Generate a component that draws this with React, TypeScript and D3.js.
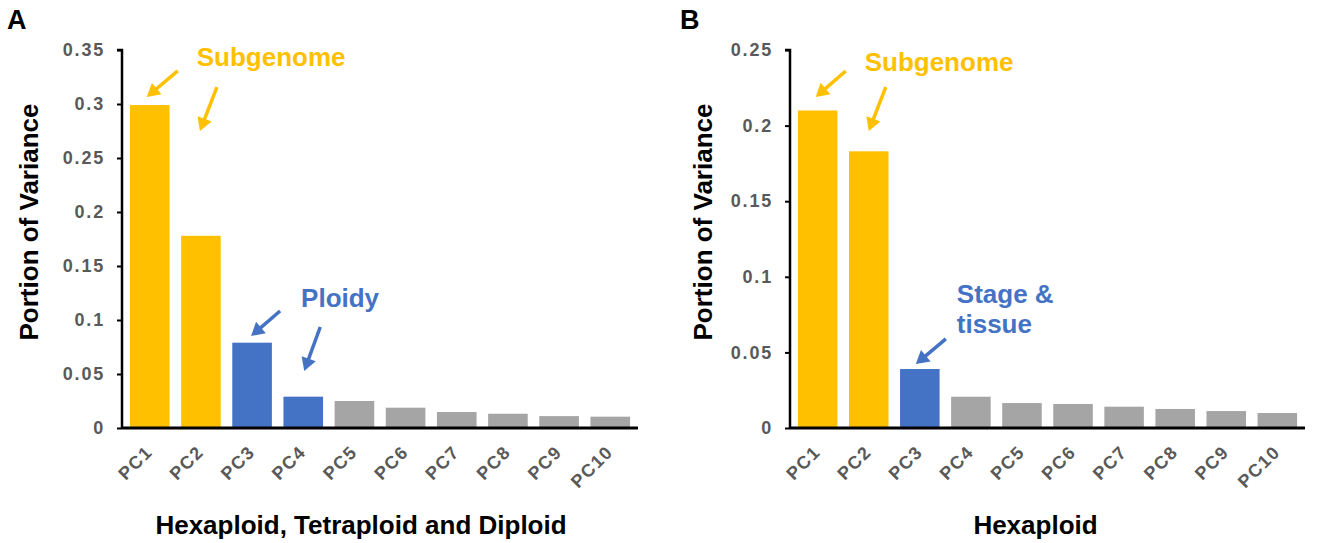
import * as d3 from "d3";
import { useEffect, useRef } from "react";

// data
const categories = ["PC1", "PC2", "PC3", "PC4", "PC5", "PC6", "PC7", "PC8", "PC9", "PC10"];
const valuesA = [0.299, 0.178, 0.079, 0.029, 0.025, 0.0188, 0.0148, 0.0132, 0.011, 0.0105];
const valuesB = [0.21, 0.183, 0.039, 0.0207, 0.0165, 0.0159, 0.0141, 0.0126, 0.0112, 0.0099];
const groupsA = ["sub", "sub", "main", "main", "rest", "rest", "rest", "rest", "rest", "rest"];
const groupsB = ["sub", "sub", "main", "rest", "rest", "rest", "rest", "rest", "rest", "rest"];
const ticksA = [0, 0.05, 0.1, 0.15, 0.2, 0.25, 0.3, 0.35];
const ticksB = [0, 0.05, 0.1, 0.15, 0.2, 0.25];

const ORANGE = "#FFC000";
const BLUE = "#4472C4";
const GRAY = "#A5A5A5";
const colorOf = { sub: ORANGE, main: BLUE, rest: GRAY };
const FONT = "'Liberation Sans', Arial, sans-serif";

const panels = [
  {
    letter: "A", letterX: 7,
    values: valuesA, groups: groupsA, ticks: ticksA, ymax: 0.35,
    x0: 122, x1: 638, yTitleX: 38, xTitle: "Hexaploid, Tetraploid and Diploid", xTitleDx: -19,
    labels: [
      { lines: ["Subgenome"], cat: "PC1", dx: 47, v: 0.335, color: ORANGE },
      { lines: ["Ploidy"], cat: "PC3", dx: 49, v: 0.112, color: BLUE },
    ],
    arrows: [
      { cat: "PC1", tailDx: 28, tailV: 0.3306, tipDx: -3, tipV: 0.3065, color: ORANGE },
      { cat: "PC2", tailDx: 16, tailV: 0.3157, tipDx: -1, tipV: 0.275, color: ORANGE },
      { cat: "PC3", tailDx: 28, tailV: 0.1083, tipDx: -1, tipV: 0.0852, color: BLUE },
      { cat: "PC4", tailDx: 17, tailV: 0.0935, tipDx: 1, tipV: 0.0528, color: BLUE },
    ],
  },
  {
    letter: "B", letterX: 680,
    values: valuesB, groups: groupsB, ticks: ticksB, ymax: 0.25,
    x0: 790, x1: 1305, yTitleX: 712, xTitle: "Hexaploid", xTitleDx: -12,
    labels: [
      { lines: ["Subgenome"], cat: "PC1", dx: 47, v: 0.236, color: ORANGE },
      { lines: ["Stage &", "tissue"], cat: "PC3", dx: 37, v: 0.0827, color: BLUE },
    ],
    arrows: [
      { cat: "PC1", tailDx: 28, tailV: 0.2361, tipDx: -2, tipV: 0.2189, color: ORANGE },
      { cat: "PC2", tailDx: 17, tailV: 0.2255, tipDx: 0, tipV: 0.1964, color: ORANGE },
      { cat: "PC3", tailDx: 26, tailV: 0.0589, tipDx: -4, tipV: 0.0423, color: BLUE },
    ],
  },
];

const top = 50;
const baseY = 428;

const App = () => {
  const ref = useRef(null);

  useEffect(() => {
    const svg = d3.select(ref.current);
    svg.selectAll("*").remove();

    panels.forEach((p) => {
      const g = svg.append("g");
      const x = d3.scaleBand().domain(categories).range([p.x0, p.x1]).paddingInner(0.226).paddingOuter(0.155);
      const y = d3.scaleLinear().domain([0, p.ymax]).range([baseY, top]);
      const cx = (c) => x(c) + x.bandwidth() / 2;

      // bars
      g.selectAll("rect.bar")
        .data(p.values)
        .enter()
        .append("rect")
        .attr("x", (d, i) => x(categories[i]))
        .attr("y", (d) => y(d))
        .attr("width", x.bandwidth())
        .attr("height", (d) => baseY - y(d))
        .style("fill", (d, i) => colorOf[p.groups[i]]);

      // y axis
      const yAxis = d3.axisLeft(y).tickValues(p.ticks).tickSize(5).tickPadding(12)
        .tickFormat((d) => String(+d.toFixed(2)));
      const ya = g.append("g").attr("transform", `translate(${p.x0},0)`).call(yAxis);
      ya.select(".domain").attr("stroke", "#000").attr("stroke-width", 2.5).attr("d", `M-5,${top}H0V${baseY}`);
      ya.selectAll(".tick line").attr("stroke", "#000").attr("stroke-width", 2);
      ya.selectAll(".tick text")
        .attr("fill", "#595959")
        .style("font-family", FONT)
        .style("font-size", "18px")
        .style("font-weight", "bold")
        .style("letter-spacing", "1.8px");

      // x axis
      const xAxis = d3.axisBottom(x).tickSize(0).tickPadding(0);
      const xa = g.append("g").attr("transform", `translate(0,${baseY})`).call(xAxis);
      xa.select(".domain").attr("stroke", "#000").attr("stroke-width", 3).attr("d", `M${p.x0},0H${p.x1}`);
      xa.selectAll(".tick text")
        .attr("fill", "#595959")
        .attr("dy", 0)
        .attr("y", 0)
        .attr("text-anchor", "end")
        .attr("transform", "translate(4,25) rotate(-45)")
        .style("font-family", FONT)
        .style("font-size", "18px")
        .style("font-weight", "bold")
        .style("letter-spacing", "1.5px");

      // axis titles
      g.append("text")
        .attr("transform", `translate(${p.yTitleX},${(top + baseY) / 2 - 17}) rotate(-90)`)
        .attr("text-anchor", "middle")
        .style("font-family", FONT)
        .style("font-size", "26px")
        .style("font-weight", "bold")
        .text("Portion of Variance");

      g.append("text")
        .attr("x", (p.x0 + p.x1) / 2 + p.xTitleDx)
        .attr("y", 534)
        .attr("text-anchor", "middle")
        .style("font-family", FONT)
        .style("font-size", "26px")
        .style("font-weight", "bold")
        .text(p.xTitle);

      // panel letter
      g.append("text")
        .attr("x", p.letterX)
        .attr("y", 29)
        .style("font-family", FONT)
        .style("font-size", "27px")
        .style("font-weight", "bold")
        .text(p.letter);

      // annotations
      p.labels.forEach((l) => {
        const t = g.append("text")
          .attr("x", cx(l.cat) + l.dx)
          .attr("y", y(l.v))
          .style("font-family", FONT)
          .style("font-size", "26px")
          .style("font-weight", "bold")
          .attr("fill", l.color);
        l.lines.forEach((line, i) => {
          t.append("tspan").attr("x", cx(l.cat) + l.dx).attr("dy", i === 0 ? 0 : 30).text(line);
        });
      });

      p.arrows.forEach((a) => {
        const tx = cx(a.cat) + a.tailDx, ty = y(a.tailV);
        const hx = cx(a.cat) + a.tipDx, hy = y(a.tipV);
        const len = Math.hypot(hx - tx, hy - ty);
        const ux = (hx - tx) / len, uy = (hy - ty) / len;
        const head = 13, half = 7.5;
        const bx = hx - ux * head, by = hy - uy * head;
        g.append("line")
          .attr("x1", tx).attr("y1", ty).attr("x2", bx + ux).attr("y2", by + uy)
          .attr("stroke", a.color).attr("stroke-width", 3.5);
        g.append("polygon")
          .attr("points", [
            [hx, hy],
            [bx - uy * half, by + ux * half],
            [bx + uy * half, by - ux * half],
          ].map((q) => q.join(",")).join(" "))
          .attr("fill", a.color);
      });
    });
  }, []);

  return (
    <svg ref={ref} width={1318} height={543}
      style={{ position: "absolute", left: 0, top: 0, background: "#fff" }} />
  );
};

export default App;
